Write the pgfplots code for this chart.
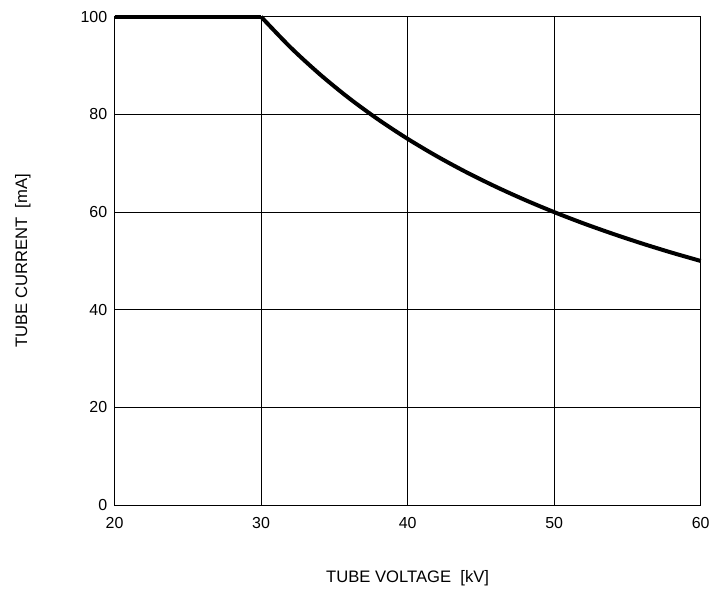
\documentclass[border={8pt 4pt 0pt 5pt}]{standalone}
\usepackage{fontspec}
\setmainfont{Liberation Sans}
\usepackage{pgfplots}
\pgfplotsset{compat=1.18}

\begin{document}
\begin{tikzpicture}
\begin{axis}[
    scale only axis,
    width=441pt, height=367.5pt,
    xmin=20, xmax=60, ymin=0, ymax=100,
    xtick={20,30,...,60}, ytick={0,20,...,100},
    grid=major,
    grid style={black, line width=0.6pt},
    axis line style={black, line width=0.8pt},
    tick style={draw=none},
    ticklabel style={font=\fontsize{12}{14}\selectfont},
    /pgf/number format/assume math mode=true,
    xticklabel style={yshift=-6pt},
    yticklabel style={xshift=-2pt},
    xlabel={TUBE VOLTAGE\ \ [kV]},
    ylabel={TUBE CURRENT\ \ [mA]},
    label style={font=\fontsize{12.5}{15}\selectfont},
    xlabel style={at={(axis description cs:0.5,-0.149)}, anchor=center},
    ylabel style={at={(axis description cs:-0.1565,0.5)}, anchor=center},
    clip=false,
]
\addplot[black, line width=3pt] coordinates {
    (20,100) (30,100)
};
\addplot[black, line width=3pt, smooth] coordinates {
    (30,100) (32,93.75) (34,88.24) (36,83.33) (38,78.95) (40,75.0)
    (42,71.43) (44,68.18) (46,65.22) (48,62.5) (50,60.0) (52,57.69)
    (54,55.56) (56,53.57) (58,51.72) (60,50.0)
};
\end{axis}
\end{tikzpicture}
\end{document}
